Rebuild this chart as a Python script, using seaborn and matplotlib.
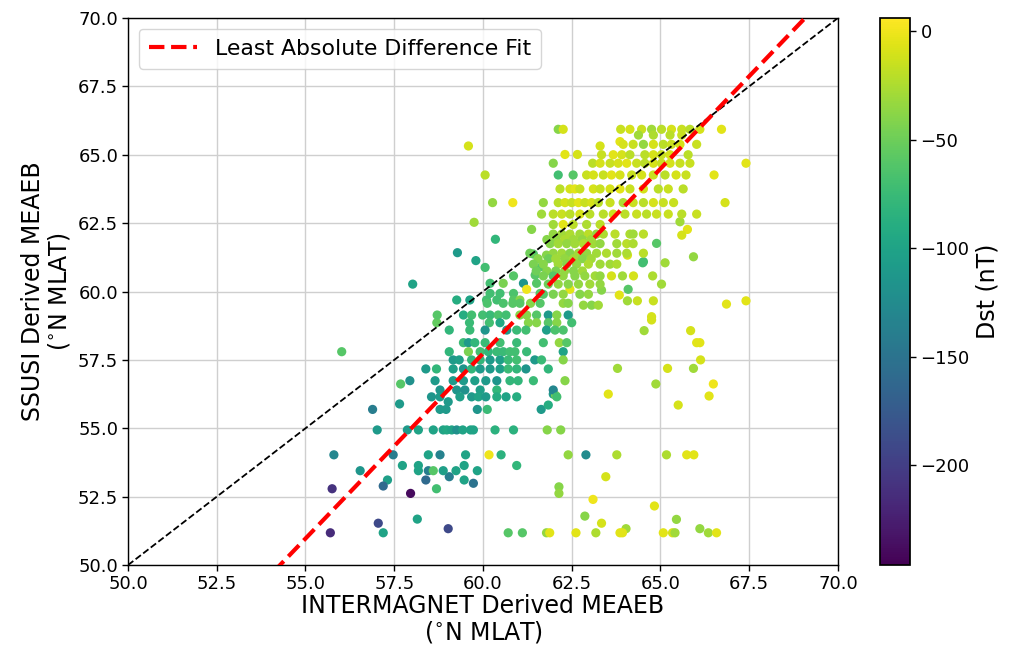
import numpy as np
import pandas as pd
import matplotlib
matplotlib.use("Agg")
import matplotlib.pyplot as plt
import seaborn as sns
from matplotlib.colors import Normalize
from matplotlib.cm import ScalarMappable

# ---------------------------------------------------------------------------
# Boundary comparisons: INTERMAGNET MEAEB (x), SSUSI MEAEB (y), Dst index (nT)
# ---------------------------------------------------------------------------

# Scattered points (x, y, Dst given point by point)
sparse_x = [55.75, 57.68, 56.89, 57.65, 58.79, 58.96, 59.84, 60.12, 59.02, 61.64, 61.84,
            57.73, 58.18, 59.47, 60.95, 59.05, 63.46, 57.31, 58.39, 59.47, 59.73, 57.19,
            58.69, 57.96, 62.14, 62.14, 63.10, 64.83, 62.87, 65.45, 58.15, 57.05, 63.34,
            59.02, 64.03, 66.11, 61.98, 62.05, 63.53, 64.87, 66.49, 66.37, 65.50]
sparse_y = [52.79, 56.62, 55.69, 55.89, 55.69, 55.69, 55.69, 55.69, 55.97, 55.69, 55.85,
            53.64, 53.64, 53.64, 53.64, 53.23, 53.23, 53.11, 53.11, 53.11, 52.99, 52.89,
            52.79, 52.62, 52.86, 52.62, 52.40, 52.16, 51.79, 51.67, 51.68, 51.53, 51.53,
            51.33, 51.33, 51.33, 56.25, 56.20, 56.25, 56.62, 56.62, 56.18, 55.85]
sparse_dst = [-210, -60, -140, -110, -110, -110, -115, -75, -110, -110, -90,
              -100, -100, -100, -80, -140, -10, -105, -160, -100, -150, -160,
              -70, -240, -40, -35, 0, -5, -40, -35, -100, -190, -10,
              -190, -30, -35, -110, -40, -5, -30, 0, -5, -10]

# Points on the high-latitude / right-hand fringe
fringe_x = [64.07, 64.50, 65.13, 65.93, 63.62, 63.93, 64.24, 64.78, 65.03, 63.84, 64.09,
            64.07, 64.35, 64.80, 66.86, 67.41, 64.75, 64.75, 64.54, 65.85, 66.02, 66.11,
            66.13, 65.93, 65.20, 63.79, 65.55, 65.76, 65.60, 64.89, 64.52, 62.45, 63.34]
fringe_y = [61.33, 61.05, 61.05, 61.27, 60.57, 60.57, 60.57, 60.57, 60.27, 59.87, 60.08,
            59.66, 59.66, 59.66, 59.54, 59.66, 59.08, 58.96, 58.57, 58.57, 58.13, 58.13,
            57.50, 57.19, 57.19, 57.19, 62.55, 62.27, 62.06, 61.76, 61.09, 60.08, 60.05]
fringe_dst = [-10, -70, -30, -35, -10, -30, -10, -25, -30, -5, -60,
              -30, -15, -15, -5, -5, -10, -10, -30, -10, -5, -5,
              -10, -30, -10, -30, -30, -5, -10, -60, -70, -5, -40]

# Points above the 1:1 line and around the upper band
upper_x = [62.12, 62.26, 59.59, 60.06, 60.27, 60.84, 59.75, 60.35, 61.37, 61.42, 62.31,
           62.66, 61.98, 62.12, 62.54, 63.30, 63.86, 66.72, 67.41, 66.51, 66.82,
           59.28, 59.80, 60.06, 58.02, 60.86, 61.47, 60.57, 60.20, 61.14, 61.51, 61.23,
           60.20, 60.48, 60.86, 61.61, 60.10, 60.39, 60.86, 61.04, 59.26, 59.63, 58.70,
           61.79, 61.65, 56.02]
upper_y = [65.93, 65.93, 65.32, 64.26, 63.25, 63.25, 62.53, 61.91, 62.27, 61.37, 65.01,
           65.01, 64.69, 64.26, 64.26, 65.32, 65.48, 65.93, 64.69, 64.26, 63.25,
           61.42, 61.13, 60.88, 60.27, 60.57, 60.60, 60.30, 60.30, 60.30, 60.30, 60.08,
           59.93, 59.93, 59.93, 59.93, 59.69, 59.69, 59.69, 59.69, 59.69, 59.69, 58.86,
           61.33, 60.91, 57.80]
upper_dst = [-40, -10, -10, -20, -35, 0, -30, -80, -40, -60, -5,
             -10, -40, -70, -60, -10, -5, -5, -5, -5, -10,
             -110, -100, -70, -100, -60, -60, -45, -70, -115, -60, 0,
             -70, -70, -65, -60, -70, -70, -60, -40, -90, -100, -55,
             -40, -60, -60]

# SSUSI boundaries fall on discrete latitude levels: one entry per level
row_levels = [65.93, 65.72, 65.38, 65.00, 64.69, 64.26, 63.75, 63.25, 62.83, 62.45,
              62.10, 61.90, 61.75, 61.40, 61.20, 61.00, 60.75, 60.57, 60.27, 59.90,
              59.57, 59.50, 59.14, 58.86, 58.59, 58.13, 57.80, 57.50, 57.17, 56.74,
              56.40, 56.15, 54.94, 54.03, 53.45, 51.18]
row_x = [
    [63.88, 64.14, 64.47, 64.75, 65.03, 65.31, 65.60, 65.83, 66.11],
    [64.38, 64.80, 65.27, 65.60],
    [63.95, 64.23, 64.52, 64.80, 65.08, 65.31, 65.55, 66.02],
    [63.34, 63.67, 63.91, 64.14, 64.56, 64.80, 65.03, 65.27, 65.78],
    [63.09, 63.30, 63.58, 63.81, 64.05, 64.33, 64.56, 64.80, 65.03, 65.27, 65.55, 65.83],
    [62.92, 63.11, 63.39, 63.62, 63.86, 64.19, 64.47, 64.80, 65.13, 65.44, 65.72],
    [62.17, 62.45, 62.59, 62.73, 63.11, 63.30, 63.58, 63.86, 64.14, 64.52, 64.94, 65.22, 65.64],
    [61.70, 62.12, 62.31, 62.50, 62.69, 62.87, 63.06, 63.25, 63.58, 63.95, 64.23, 64.52,
     64.80, 65.08, 65.37],
    [61.65, 61.98, 62.22, 62.45, 62.73, 63.01, 63.39, 63.67, 64.00, 64.33, 64.61, 64.89,
     65.22, 65.60, 66.02],
    [61.98, 62.26, 62.54, 62.92, 63.30],
    [61.98, 62.22, 62.45, 62.73, 62.97, 63.20, 63.39, 63.72, 64.14, 64.23, 64.52],
    [61.80, 62.05, 62.30, 62.55, 62.80, 63.05],
    [61.89, 62.12, 62.36, 62.59, 62.83, 63.11, 63.30, 63.77, 64.05, 64.23],
    [61.32, 61.98, 62.22, 62.45, 62.69, 62.92, 63.20, 63.48, 63.77, 64.05, 64.52],
    [61.55, 61.85, 62.05, 62.30, 62.55, 62.80, 63.05],
    [61.42, 61.70, 62.12, 62.36, 62.64, 62.97, 63.30, 63.58, 63.77],
    [61.50, 61.80, 62.05, 62.30, 62.55, 62.80],
    [61.70, 61.98, 62.26, 62.59, 62.87, 63.16, 63.30],
    [61.84, 62.12, 62.40, 62.69, 63.01, 63.30],
    [61.70, 61.98, 62.26, 62.73, 62.97],
    [60.12, 60.57, 60.84, 61.04, 61.34, 61.61, 62.26, 62.40],
    [62.83, 63.06, 63.25],
    [58.71, 59.45, 59.68, 59.99, 60.20, 60.43, 60.65, 61.04, 61.23, 61.51, 61.84, 62.08, 62.40],
    [59.62, 60.18, 60.48, 61.28, 61.51, 61.84, 62.08, 62.50],
    [59.05, 59.63, 60.06, 60.67, 60.95, 61.21, 61.79, 62.03, 62.26],
    [59.45, 59.59, 59.77, 60.06, 60.48, 60.95, 61.70, 62.15, 62.36],
    [59.05, 59.59, 59.92, 60.15, 60.39, 60.57, 60.76, 60.90, 61.23, 62.26],
    [59.16, 59.33, 59.68, 59.92, 60.20, 60.48, 60.71, 60.95, 61.46, 61.65, 62.26],
    [58.39, 58.69, 59.16, 59.45, 59.68, 59.92, 60.20, 60.48, 60.71, 60.95, 61.21, 61.84],
    [57.94, 58.65, 59.16, 59.45, 59.77, 60.08, 60.39, 60.76, 60.99, 61.42, 62.31],
    [58.79, 59.26, 59.49, 59.92, 60.39, 61.98],
    [58.55, 58.79, 59.35, 59.68, 59.87, 60.08, 60.39, 60.65, 60.95, 62.08],
    [57.02, 57.87, 58.18, 58.60, 58.88, 58.98, 59.12, 59.26, 59.43, 59.65, 59.73, 60.34,
     60.86, 61.81, 62.19],
    [55.80, 57.47, 58.46, 58.79, 59.51, 60.17, 60.51, 62.40, 62.90, 63.77, 65.17, 65.74, 65.94],
    [56.54, 58.18, 58.46, 58.60, 58.88, 59.24, 59.84],
    [55.70, 57.19, 60.71, 61.11, 61.79, 61.88, 62.62, 63.18, 63.86, 63.93, 65.08, 65.34,
     65.41, 66.35, 66.58],
]
row_dst = [
    [-15, -10, -15, -30, -20, -10, -15, -20, -10],
    [-30, -25, -20, -15],
    [-10, -15, -35, -10, -20, -15, -10, -15],
    [-15, -5, -10, -20, -20, -10, -15, -10, -20],
    [-20, -10, -15, -10, -5, -15, -20, -10, -15, -10, -15, -15],
    [-15, -10, -15, -5, -10, -15, -10, -15, -20, -10, -15],
    [-20, -10, -5, -15, -10, -15, -10, -5, -15, -10, -20, -15, -20],
    [-35, -20, -10, -15, -5, -15, -10, -20, -15, -25, -15, -20, -10, -15, -15],
    [-30, -20, -15, -20, -10, -20, -20, -15, -20, -15, -20, -15, -15, -20, -15],
    [-30, -5, -20, -25, -20],
    [-35, -30, -25, -30, -20, -35, -25, -20, -25, -30, -20],
    [-40, -35, -25, -30, -35, -30],
    [-40, -30, -35, -30, -25, -30, -35, -30, -20, -25],
    [-50, -35, -30, -40, -30, -35, -30, -25, -30, -25, -20],
    [-40, -50, -30, -35, -30, -40, -30],
    [-45, -40, -30, -40, -35, -25, -30, -30, -25],
    [-50, -40, -45, -35, -40, -30],
    [-45, -60, -35, -40, -35, -30, -35],
    [-50, -35, -40, -35, -30, -35],
    [-60, -45, -35, -40, -35],
    [-65, -65, -60, -60, -40, -60, -35, -40],
    [-35, -40, -30],
    [-60, -90, -70, -70, -75, -65, -70, -40, -40, -60, -110, -40, -110],
    [-75, -70, -95, -40, -40, -60, -40, -70],
    [-80, -75, -115, -110, -75, -70, -105, -65, -65],
    [-75, -110, -80, -75, -70, -75, -70, -35, -60],
    [-80, -45, -70, -80, -75, -75, -70, -70, -75, -100],
    [-110, -105, -80, -80, -110, -105, -75, -70, -110, -75, -40],
    [-110, -80, -105, -115, -80, -110, -110, -105, -75, -80, -115, -80],
    [-120, -110, -110, -110, -105, -110, -115, -80, -80, -75, -40],
    [-115, -115, -120, -105, -80, -130],
    [-115, -110, -105, -110, -100, -110, -90, -100, -90, -70],
    [-110, -110, -100, -100, -100, -95, -100, -120, -100, -100, -100, -85, -85, -40, -40],
    [-130, -140, -100, -135, -100, 0, -85, -35, -125, -25, -25, -5, -5],
    [-115, -100, -140, -60, -105, -100, -100],
    [-215, -100, -60, -60, -35, -5, -5, -25, -5, -5, -5, -10, -30, -30, -5],
]

# Least-absolute-difference fit coefficients and colour range
fit_slope = 1.352
fit_intercept = -23.39
dst_min, dst_max = -246.0, 6.0
axis_ticks = [50.0, 52.5, 55.0, 57.5, 60.0, 62.5, 65.0, 67.5, 70.0]
cbar_ticks = [0, -50, -100, -150, -200]

# ---------------------------------------------------------------------------
frames = [
    pd.DataFrame({"intermagnet": sparse_x, "ssusi": sparse_y, "dst": sparse_dst}),
    pd.DataFrame({"intermagnet": fringe_x, "ssusi": fringe_y, "dst": fringe_dst}),
    pd.DataFrame({"intermagnet": upper_x, "ssusi": upper_y, "dst": upper_dst}),
]
for level, xs, ds in zip(row_levels, row_x, row_dst):
    frames.append(pd.DataFrame({"intermagnet": xs, "ssusi": [level] * len(xs), "dst": ds}))
df = pd.concat(frames, ignore_index=True)

sns.set_theme(style="white")
plt.rcParams["font.family"] = ["DejaVu Sans"]
plt.rcParams["text.color"] = "black"
plt.rcParams["axes.labelcolor"] = "black"
plt.rcParams["xtick.color"] = "black"
plt.rcParams["ytick.color"] = "black"

fig = plt.figure(figsize=(10.12, 6.51), dpi=100)
ax = fig.add_axes([0.1265, 0.132, 0.7015, 0.8404])
cax = fig.add_axes([0.8696, 0.132, 0.0296, 0.8404])

norm = Normalize(vmin=dst_min, vmax=dst_max)
ax.grid(True, color="#cfcfcf", linewidth=1.0, zorder=0)
ax.set_axisbelow(True)

sns.scatterplot(data=df, x="intermagnet", y="ssusi", hue="dst", palette="viridis",
                hue_norm=norm, s=44, linewidth=0, edgecolor="none", alpha=1.0,
                legend=False, ax=ax, zorder=3)

line_x = np.array([50.0, 70.0])
ax.plot(line_x, line_x, color="black", linestyle="--", linewidth=1.3, zorder=4)
ax.plot(line_x, fit_slope * line_x + fit_intercept, color="red", linestyle="--",
        linewidth=3.0, zorder=5, label="Least Absolute Difference Fit")

ax.set_xlim(50, 70)
ax.set_ylim(50, 70)
ax.set_xticks(axis_ticks)
ax.set_yticks(axis_ticks)
ax.set_xticklabels([f"{t:.1f}" for t in axis_ticks])
ax.set_yticklabels([f"{t:.1f}" for t in axis_ticks])
ax.tick_params(axis="both", labelsize=13, length=4, width=1, color="black",
               labelcolor="black", direction="out", bottom=True, left=True, pad=3)
for sp in ax.spines.values():
    sp.set_color("black")
    sp.set_linewidth(1.0)

ax.set_xlabel("INTERMAGNET Derived MEAEB\n($^{\\circ}$N MLAT)", fontsize=17,
              color="black", labelpad=1, linespacing=1.05)
ax.set_ylabel("SSUSI Derived MEAEB\n($^{\\circ}$N MLAT)", fontsize=17,
              color="black", linespacing=1.05)

leg = ax.legend(loc="upper left", fontsize=15.8, frameon=True, handlelength=2.2,
                borderpad=0.45, fancybox=True)
leg.get_frame().set_edgecolor("#cccccc")
for t in leg.get_texts():
    t.set_color("black")

sm = ScalarMappable(norm=norm, cmap="viridis")
sm.set_array([])
cb = fig.colorbar(sm, cax=cax)
cb.set_ticks(cbar_ticks)
cb.ax.tick_params(labelsize=13, length=4, width=1, color="black", labelcolor="black")
cb.set_label("Dst (nT)", fontsize=17, color="black")
cb.outline.set_edgecolor("black")

fig.savefig("out.png", dpi=100)
